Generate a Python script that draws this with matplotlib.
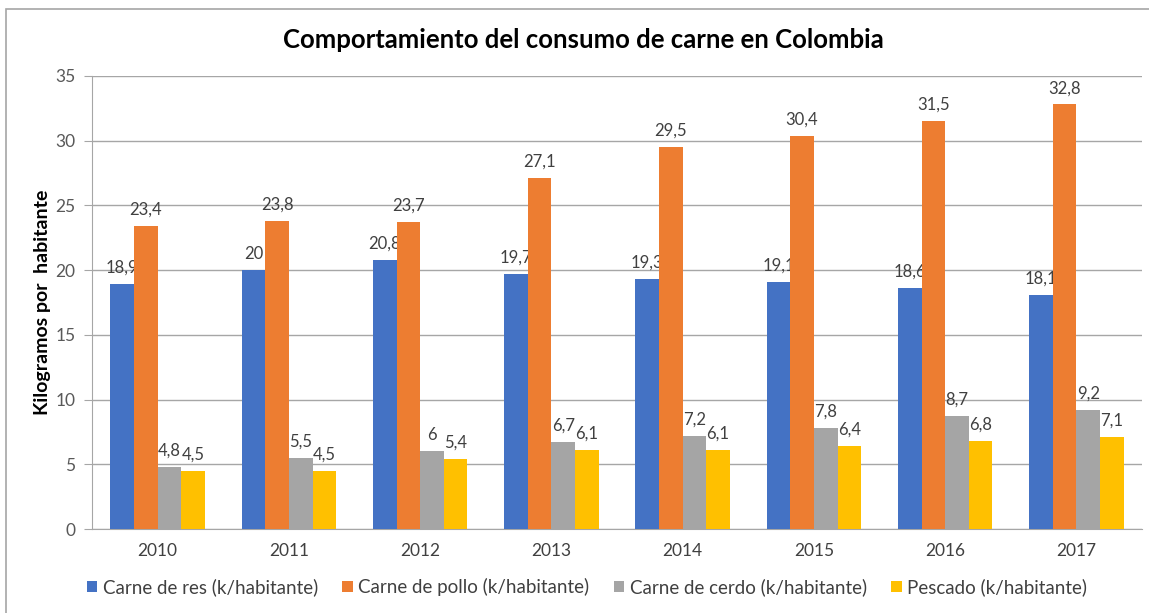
import matplotlib.pyplot as plt
import numpy as np
from matplotlib.patches import Rectangle

years = ['2010', '2011', '2012', '2013', '2014', '2015', '2016', '2017']
res = [18.9, 20, 20.8, 19.7, 19.3, 19.1, 18.6, 18.1]
pollo = [23.4, 23.8, 23.7, 27.1, 29.5, 30.4, 31.5, 32.8]
cerdo = [4.8, 5.5, 6, 6.7, 7.2, 7.8, 8.7, 9.2]
pescado = [4.5, 4.5, 5.4, 6.1, 6.1, 6.4, 6.8, 7.1]

series = [
    ('Carne de res (k/habitante)', res, '#4472C4'),
    ('Carne de pollo (k/habitante)', pollo, '#ED7D31'),
    ('Carne de cerdo (k/habitante)', cerdo, '#A5A5A5'),
    ('Pescado (k/habitante)', pescado, '#FFC000'),
]

plt.rcParams['font.family'] = ['Lato', 'DejaVu Sans']

fig = plt.figure(figsize=(11.49, 6.13), dpi=100)
ax = fig.add_axes([92 / 1149, 1 - 529 / 613, 1050 / 1149, 453 / 613])

# outer chart frame
fig.patches.append(Rectangle((6 / 1149, -0.05), 1.2, 1 - 9 / 613 + 0.05,
                             transform=fig.transFigure, fill=False,
                             edgecolor='#A6A6A6', linewidth=1.2))

x = np.arange(len(years))
w = 0.18
for i, (name, vals, col) in enumerate(series):
    pos = x + (i - 1.5) * w
    bars = ax.bar(pos, vals, w, color=col, label=name, zorder=3)
    for b, v in zip(bars, vals):
        txt = ('%g' % v).replace('.', ',')
        ax.annotate(txt, (b.get_x() + b.get_width() / 2, v), xytext=(0, 6),
                    textcoords='offset points', ha='center', va='bottom',
                    fontsize=12, color='#404040')

ax.set_xlim(-0.5, len(years) - 0.5)
ax.set_ylim(0, 35)
ax.set_yticks(range(0, 36, 5))
ax.set_xticks(x)
ax.set_xticklabels(years)
ax.grid(axis='y', color='#A6A6A6', linewidth=1, zorder=0)
ax.tick_params(axis='y', length=6, color='#A6A6A6', labelsize=12.5,
               labelcolor='#595959', pad=6)
ax.tick_params(axis='x', length=0, labelsize=12.5, labelcolor='#404040', pad=10)
for s in ['top', 'right']:
    ax.spines[s].set_visible(False)
for s in ['left', 'bottom']:
    ax.spines[s].set_color('#A6A6A6')

ax.set_ylabel('Kilogramos por  habitante', fontsize=14, fontweight='bold',
              color='black', labelpad=3)

fig.text(583 / 1149, 1 - 40 / 613, 'Comportamiento del consumo de carne en Colombia',
         ha='center', va='center', fontsize=18.5, fontweight='bold', color='black')

fig.legend(loc='center', bbox_to_anchor=(587 / 1149, 1 - 587 / 613), ncol=4,
           frameon=False, fontsize=13.5, handlelength=0.55, handleheight=0.55,
           handletextpad=0.3, columnspacing=1.3, labelcolor='#404040')

plt.savefig('out.png', dpi=100)
